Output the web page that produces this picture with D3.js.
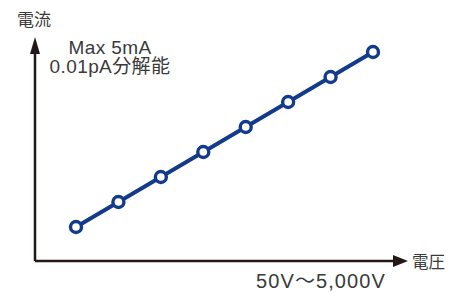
<!DOCTYPE html>
<html><head><meta charset="utf-8">
<script src="https://cdn.jsdelivr.net/npm/d3@7"></script>
<style>
html,body{margin:0;padding:0;background:#fff;}
svg{display:block;}
text{font-family:"Liberation Sans","Noto Sans CJK JP",sans-serif;fill:#3a3a3a;}
</style></head><body>
<script>
// data
const steps = [1,2,3,4,5,6,7,8];          // voltage steps (50V ... 5,000V)
const currents = [1,2,3,4,5,6,7,8];       // relative current
const yLabel = "電流";
const xLabel = "電圧";
const rangeLabel = "50V〜5,000V";
const noteLines = ["Max 5mA","0.01pA分解能"];

const W = 456, H = 293;
const svg = d3.select("body").append("svg").attr("width", W).attr("height", H);

const ox = 35, oy = 261;
const x = d3.scaleLinear().domain([1,8]).range([76, 373]);
const y = d3.scaleLinear().domain([1,8]).range([227, 52]);

const axisColor = "#231815";
svg.append("path").attr("d", `M${ox},${oy} L${ox},52`).attr("stroke", axisColor).attr("stroke-width", 2.5).attr("fill","none");
svg.append("path").attr("d", `M${ox},${oy} L396,${oy}`).attr("stroke", axisColor).attr("stroke-width", 2.5).attr("fill","none");
svg.append("path").attr("d", `M${ox-5},54 L${ox},37 L${ox+5},54 Z`).attr("fill", axisColor);
svg.append("path").attr("d", `M393,${oy-6} L408,${oy} L393,${oy+6} Z`).attr("fill", axisColor);

const line = d3.line().x((d,i)=>x(steps[i])).y(d=>y(d));
const navy = "#133a8b";
svg.append("path").datum(currents).attr("d", line).attr("fill","none").attr("stroke", navy).attr("stroke-width", 4);
svg.selectAll("circle.pt").data(currents).join("circle").attr("class","pt")
  .attr("cx",(d,i)=>x(steps[i])).attr("cy",d=>y(d)).attr("r",5.5)
  .attr("fill","#fff").attr("stroke",navy).attr("stroke-width",3.4);

svg.append("text").attr("x",17).attr("y",26).attr("font-size",17).text(yLabel);
svg.append("text").attr("x",412).attr("y",268).attr("font-size",16.5).text(xLabel);
svg.append("text").attr("x",321).attr("y",288).attr("text-anchor","middle").attr("font-size",20).attr("letter-spacing",1.1).text(rangeLabel);
noteLines.forEach((t,i)=>{
  svg.append("text").attr("x",110).attr("y",54+i*19).attr("text-anchor","middle").attr("font-size",19).attr("letter-spacing",0.4).text(t);
});
</script>
</body></html>
